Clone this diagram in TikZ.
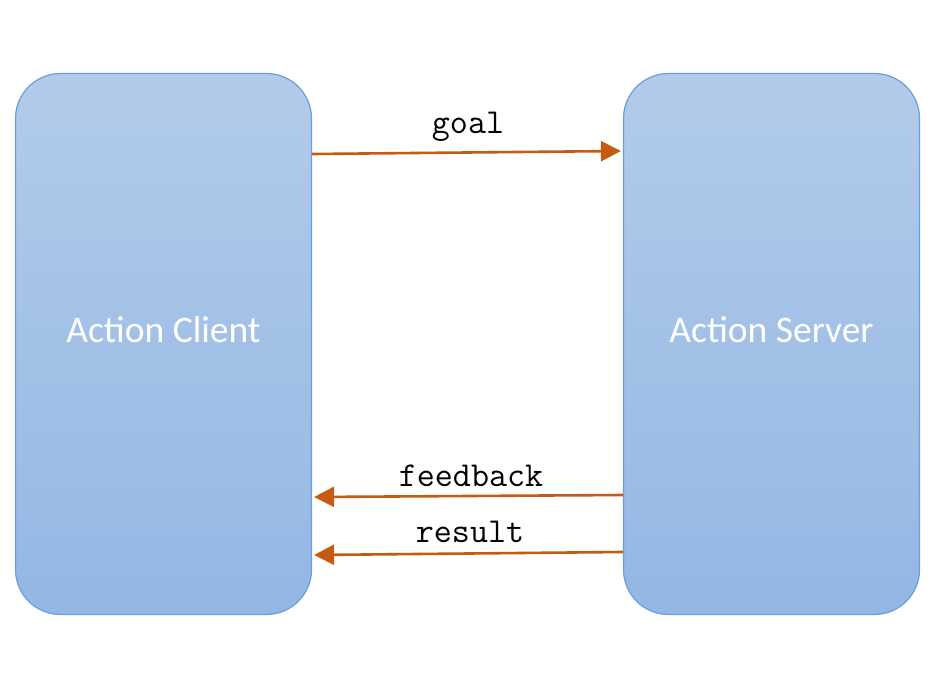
\documentclass[tikz,border=0pt]{standalone}
\usepackage{fontspec}
\setmainfont{Carlito}
\usetikzlibrary{arrows.meta}
\definecolor{boxtop}{HTML}{B2CBEA}
\definecolor{boxbot}{HTML}{93B7E3}
\definecolor{boxline}{HTML}{6A9FDA}
\definecolor{arrowc}{HTML}{C55A11}
\begin{document}
\begin{tikzpicture}[x=1pt,y=-1pt,
  actor/.style={rounded corners=45pt, draw=boxline, line width=1.2pt,
    top color=boxtop, bottom color=boxbot, minimum width=296pt,
    minimum height=541pt, inner sep=0pt},
  actortext/.style={text=white, font=\fontsize{37.5}{40}\selectfont, inner sep=0pt},
  msg/.style={draw=arrowc, line width=2.6pt,
    -{Triangle[length=20pt,width=20pt]}},
  lbl/.style={font=\ttfamily\fontsize{35}{38}\selectfont, text=black, inner sep=0pt}]
\useasboundingbox (0,0) rectangle (940,688);
\node[actor, label={[actortext, yshift=14pt]center:Action Client}] (client) at (163.5,344) {};
\node[actor, label={[actortext, yshift=14pt]center:Action Server}] (server) at (771.5,344) {};
\draw[msg] (client.east |- 0,154) -- ([xshift=-2pt]server.west |- 0,151);
\draw[msg] (server.west |- 0,495) -- ([xshift=2pt]client.east |- 0,497);
\draw[msg] (server.west |- 0,552) -- ([xshift=2pt]client.east |- 0,555);
\node[lbl] (goal) at (468,127) {goal};
\node[lbl] (feedback) at (471,476) {feedback};
\node[lbl] (result) at (470,532) {result};
\end{tikzpicture}
\end{document}
